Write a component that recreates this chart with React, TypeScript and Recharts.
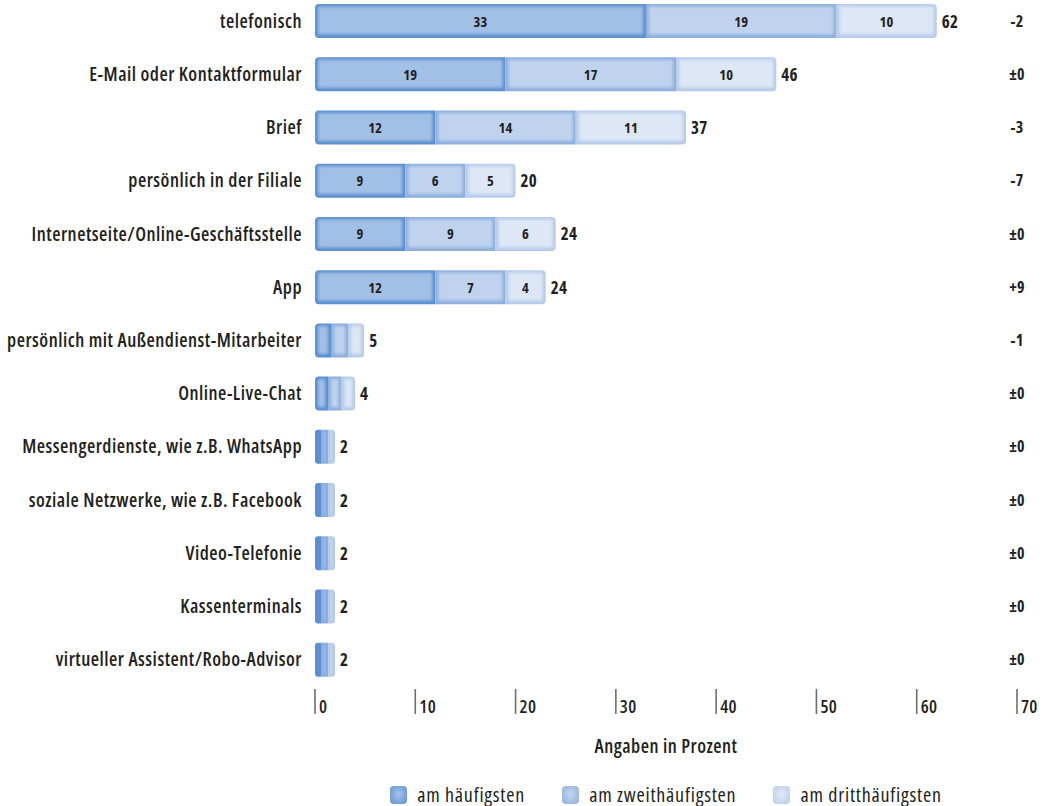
import React from "react";
import { BarChart, Bar, XAxis, YAxis, LabelList, Label } from "recharts";

const categories = [
  "telefonisch",
  "E-Mail oder Kontaktformular",
  "Brief",
  "persönlich in der Filiale",
  "Internetseite/Online-Geschäftsstelle",
  "App",
  "persönlich mit Außendienst-Mitarbeiter",
  "Online-Live-Chat",
  "Messengerdienste, wie z.B. WhatsApp",
  "soziale Netzwerke, wie z.B. Facebook",
  "Video-Telefonie",
  "Kassenterminals",
  "virtueller Assistent/Robo-Advisor",
];
const mostFrequent = [33, 19, 12, 9, 9, 12, 1.6, 1.3, 0.6, 0.6, 0.6, 0.6, 0.6];
const secondFrequent = [19, 17, 14, 6, 9, 7, 1.7, 1.35, 0.7, 0.7, 0.7, 0.7, 0.7];
const thirdFrequent = [10, 10, 11, 5, 6, 4, 1.6, 1.35, 0.7, 0.7, 0.7, 0.7, 0.7];
const totals = [62, 46, 37, 20, 24, 24, 5, 4, 2, 2, 2, 2, 2];
const changes = ["-2", "±0", "-3", "-7", "±0", "+9", "-1", "±0", "±0", "±0", "±0", "±0", "±0"];
const xTicks = [0, 10, 20, 30, 40, 50, 60, 70];
const seriesNames = ["am häufigsten", "am zweithäufigsten", "am dritthäufigsten"];

const data = categories.map((name, i) => ({
  name,
  a: mostFrequent[i],
  b: secondFrequent[i],
  c: thirdFrequent[i],
  total: totals[i],
}));

const FONT = "'Open Sans', 'DejaVu Sans Condensed', sans-serif";
const STRETCH = "75%";
const TEXT = "#231f20";

const COLORS = [
  { edge: "#5a8fd0", center: "#a2bfe6" },
  { edge: "#8caedd", center: "#c0d3ee" },
  { edge: "#b6cbea", center: "#dde7f5" },
];

function roundedPath(x: number, y: number, w: number, h: number, left: number, right: number) {
  const l = Math.min(left, w / 2, h / 2);
  const r = Math.min(right, w / 2, h / 2);
  return `M${x + l},${y} L${x + w - r},${y} Q${x + w},${y} ${x + w},${y + r} L${x + w},${y + h - r} Q${x + w},${y + h} ${x + w - r},${y + h} L${x + l},${y + h} Q${x},${y + h} ${x},${y + h - l} L${x},${y + l} Q${x},${y} ${x + l},${y} Z`;
}

const makeShape = (si: number) => (props: any) => {
  const { x, y, width, height } = props;
  if (!width || width <= 0) return <g />;
  const left = si === 0 ? 4 : 0;
  const right = si === 2 ? 4 : 0;
  const c = COLORS[si];
  const inset = 3;
  const iw = width - inset * 2;
  const ih = height - inset * 2;
  return (
    <g>
      <path d={roundedPath(x, y, width, height, left, right)} fill={c.edge} />
      {iw > 0 && ih > 0 ? (
        <rect
          x={x + inset}
          y={y + inset - 0.5}
          width={iw}
          height={ih}
          fill={c.center}
          filter="url(#soft)"
        />
      ) : null}
    </g>
  );
};

const textStyle = (size: number, weight: number, spacing = 0.5) => ({
  fontFamily: FONT,
  fontStretch: STRETCH,
  fontWeight: weight,
  fontSize: size,
  letterSpacing: spacing,
});

const segLabel = (props: any) => {
  const { x, y, width, height, value } = props;
  if (value < 3) return null;
  return (
    <text
      x={x + width / 2}
      y={y + height / 2}
      textAnchor="middle"
      dominantBaseline="central"
      style={textStyle(14.5, 700, 0.2)}
      fill={TEXT}
    >
      {value}
    </text>
  );
};

const totalLabel = (props: any) => {
  const { x, y, width, height, value } = props;
  return (
    <text
      x={x + width + 5}
      y={y + height / 2}
      textAnchor="start"
      dominantBaseline="central"
      style={textStyle(17, 700, 0.3)}
      fill={TEXT}
    >
      {value}
    </text>
  );
};

const CategoryTick = (props: any) => {
  const { x, y, payload } = props;
  return (
    <text
      x={x}
      y={y}
      textAnchor="end"
      dominantBaseline="central"
      style={textStyle(19, 600, 0.5)}
      fill={TEXT}
    >
      {payload.value}
    </text>
  );
};

const ChangeTick = (props: any) => {
  const { x, y, payload } = props;
  const idx = categories.indexOf(payload.value);
  return (
    <text
      x={x}
      y={y}
      textAnchor="middle"
      dominantBaseline="central"
      style={textStyle(16, 700, 0.2)}
      fill={TEXT}
    >
      {changes[idx]}
    </text>
  );
};

const ValueTick = (props: any) => {
  const { x, y, payload } = props;
  return (
    <g>
      <line x1={x} x2={x} y1={y + 3} y2={y + 28} stroke="#6d6e71" strokeWidth={1.6} />
      <text x={x + 4} y={y + 27} textAnchor="start" style={textStyle(18, 600, 0.3)} fill={TEXT}>
        {payload.value}
      </text>
    </g>
  );
};

const legendSwatch = (si: number) => (
  <span
    style={{
      display: "inline-block",
      width: 17,
      height: 18,
      borderRadius: 4,
      background: `radial-gradient(ellipse at 50% 45%, ${COLORS[si].center} 10%, ${COLORS[si].edge} 100%)`,
      marginRight: 10,
      verticalAlign: "middle",
    }}
  />
);

export default function App() {
  return (
    <div style={{ position: "absolute", left: 0, top: 0, width: 1049, height: 806 }}>
      <BarChart
        width={1049}
        height={806}
        data={data}
        layout="vertical"
        margin={{ top: -6, right: 0, bottom: 50, left: 0 }}
        barSize={34}
      >
        <defs>
          <filter id="soft" x="-20%" y="-20%" width="140%" height="140%">
            <feGaussianBlur stdDeviation="1.8" />
          </filter>
        </defs>
        <XAxis
          type="number"
          domain={[0, 70]}
          ticks={xTicks}
          axisLine={false}
          tickLine={false}
          tickSize={0}
          tickMargin={0}
          height={70}
          tick={<ValueTick />}
          interval={0}
        >
          <Label
            value="Angaben in Prozent"
            position="insideBottom"
            offset={3}
            style={{ ...textStyle(19, 600, 0.5), fill: TEXT }}
          />
        </XAxis>
        <YAxis
          type="category"
          dataKey="name"
          width={315}
          axisLine={false}
          tickLine={false}
          tickSize={0}
          tickMargin={13}
          interval={0}
          tick={<CategoryTick />}
        />
        <YAxis
          yAxisId="right"
          orientation="right"
          type="category"
          dataKey="name"
          width={32}
          axisLine={false}
          tickLine={false}
          tickSize={0}
          tickMargin={0}
          interval={0}
          tick={<ChangeTick />}
        />
        <Bar dataKey="a" stackId="s" name={seriesNames[0]} fill={COLORS[0].edge} shape={makeShape(0)} isAnimationActive={false}>
          <LabelList dataKey="a" content={segLabel} />
        </Bar>
        <Bar dataKey="b" stackId="s" name={seriesNames[1]} fill={COLORS[1].edge} shape={makeShape(1)} isAnimationActive={false}>
          <LabelList dataKey="b" content={segLabel} />
        </Bar>
        <Bar dataKey="c" stackId="s" name={seriesNames[2]} fill={COLORS[2].edge} shape={makeShape(2)} isAnimationActive={false}>
          <LabelList dataKey="c" content={segLabel} />
          <LabelList dataKey="total" content={totalLabel} />
        </Bar>
      </BarChart>
      <div
        style={{
          position: "absolute",
          left: 315,
          width: 702,
          top: 781,
          display: "flex",
          justifyContent: "center",
          gap: 37,
          fontFamily: FONT,
          fontStretch: STRETCH,
          fontSize: 20,
          letterSpacing: 0.8,
          color: TEXT,
          lineHeight: "24px",
          whiteSpace: "nowrap",
        }}
      >
        {seriesNames.map((n, i) => (
          <span key={n}>
            {legendSwatch(i)}
            <span style={{ verticalAlign: "middle" }}>{n}</span>
          </span>
        ))}
      </div>
    </div>
  );
}
